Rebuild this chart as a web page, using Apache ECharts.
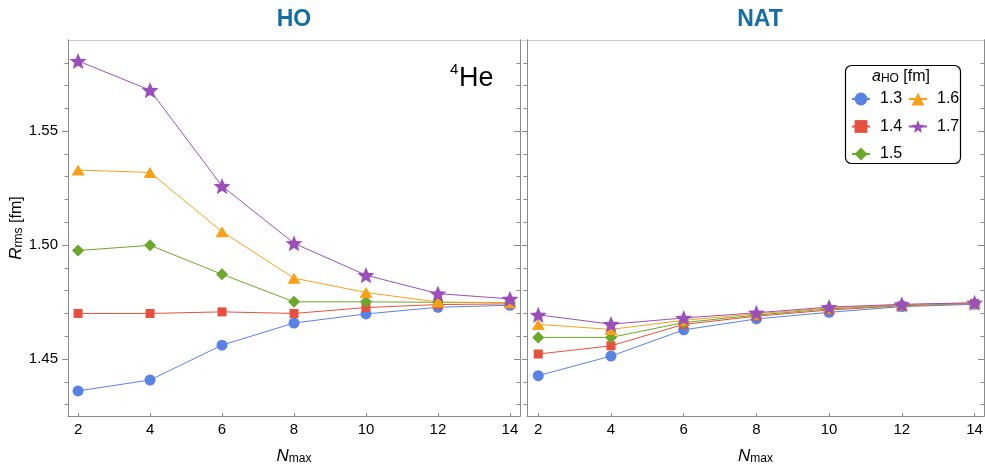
<!DOCTYPE html>
<html><head><meta charset="utf-8">
<script src="https://cdn.jsdelivr.net/npm/echarts@6/dist/echarts.min.js"></script>
<style>html,body{margin:0;padding:0;background:#fff}#c{width:985px;height:465px}</style>
</head><body><div id="c"></div>
<script>
// ---- data ----
const nmax = [2, 4, 6, 8, 10, 12, 14];
const aHO = ['1.3', '1.4', '1.5', '1.6', '1.7'];
const ho13 = [1.4360, 1.4408, 1.4561, 1.4658, 1.4698, 1.4727, 1.4736];
const ho14 = [1.4700, 1.4700, 1.4707, 1.4700, 1.4726, 1.4739, 1.4742];
const ho15 = [1.4976, 1.4999, 1.4872, 1.4751, 1.4751, 1.4749, 1.4747];
const ho16 = [1.5329, 1.5319, 1.5059, 1.4855, 1.4792, 1.4750, 1.4747];
const ho17 = [1.5808, 1.5680, 1.5259, 1.5008, 1.4868, 1.4787, 1.4764];
const nat13 = [1.4427, 1.4513, 1.4628, 1.4676, 1.4705, 1.4730, 1.4740];
const nat14 = [1.4522, 1.4558, 1.4652, 1.4688, 1.4715, 1.4734, 1.4744];
const nat15 = [1.4595, 1.4595, 1.4660, 1.4693, 1.4720, 1.4736, 1.4745];
const nat16 = [1.4652, 1.4630, 1.4670, 1.4698, 1.4724, 1.4738, 1.4746];
const nat17 = [1.4694, 1.4653, 1.4680, 1.4703, 1.4728, 1.4740, 1.4747];
const yMajor = [1.45, 1.50, 1.55];
const yMinor = [1.43, 1.44, 1.46, 1.47, 1.48, 1.49, 1.51, 1.52, 1.53, 1.54, 1.56, 1.57, 1.58];

// ---- style ----
const F = '"Liberation Sans", Arial, sans-serif';
const colors = ['#5882e4', '#e6503c', '#6aa72a', '#f7a11a', '#9b4fbb'];
const STAR = 'path://M50,0 L62.93,32.2 L97.55,34.55 L70.92,56.8 L79.39,90.45 L50,72 L20.61,90.45 L29.08,56.8 L2.45,34.55 L37.07,32.2 Z';
const symbols = ['circle', 'rect', 'diamond', 'triangle', STAR];
const sizes = [11, 9, 12, [13, 11], 17];
const AX = '#8a8a8a';

const rich = {
  i: {fontStyle: 'italic', fontSize: 17, fontFamily: F, color: '#000', verticalAlign: 'bottom', lineHeight: 17},
  s: {fontSize: 12, fontFamily: F, color: '#000', verticalAlign: 'bottom', lineHeight: 15},
  n: {fontSize: 16, fontFamily: F, color: '#000', verticalAlign: 'bottom', lineHeight: 17}
};

function xAx(g, min, max) {
  return {
    gridIndex: g, type: 'value', min: min, max: max, position: 'bottom',
    axisLine: {show: true, onZero: false, lineStyle: {color: AX, width: 1}},
    axisTick: {show: true, inside: true, length: 3, customValues: nmax, lineStyle: {color: AX}},
    axisLabel: {show: true, customValues: nmax, margin: 6, color: '#000', fontSize: 15, fontFamily: F},
    splitLine: {show: false},
    name: '{i|N}{s|max}', nameLocation: 'middle', nameGap: 32,
    nameTextStyle: {rich: rich}
  };
}
function yAx(g, pos, vals, len, inside, labels, name) {
  const a = {
    gridIndex: g, type: 'value', min: 1.425, max: 1.59, position: pos,
    axisLine: {show: true, onZero: false, lineStyle: {color: AX, width: 1}},
    axisTick: {show: true, inside: inside, length: len, customValues: vals, lineStyle: {color: AX}},
    axisLabel: labels ? {show: true, customValues: vals, formatter: v => v.toFixed(2), margin: 10, color: '#000', fontSize: 15, fontFamily: F} : {show: false},
    splitLine: {show: false}
  };
  if (name) {
    a.name = '{i|R}{s|rms}{n| [fm]}';
    a.nameLocation = 'middle';
    a.nameGap = 34;
    a.nameTextStyle = {rich: rich};
  }
  return a;
}

const hoSets = [ho13, ho14, ho15, ho16, ho17];
const natSets = [nat13, nat14, nat15, nat16, nat17];
function mk(k, vals, xi, yi) {
  return {
    type: 'line', name: aHO[k], xAxisIndex: xi, yAxisIndex: yi,
    data: nmax.map((x, i) => [x, vals[i]]),
    symbol: symbols[k], symbolSize: sizes[k], symbolKeepAspect: true,
    lineStyle: {color: colors[k], width: 1},
    itemStyle: {color: colors[k]},
    emphasis: {disabled: true}, animation: false
  };
}
const series = [];
hoSets.forEach((v, k) => series.push(mk(k, v, 0, 0)));
natSets.forEach((v, k) => series.push(mk(k, v, 1, 4)));

function legendCol(names, left) {
  return {
    data: names, orient: 'vertical', left: left, top: 91,
    itemWidth: 18, itemHeight: 16, itemGap: 11.5, padding: 0,
    selectedMode: false,
    textStyle: {fontSize: 16, color: '#000', fontFamily: F, padding: [0, 0, 0, 5]}
  };
}

const chart = echarts.init(document.getElementById('c'), null, {renderer: 'canvas'});
chart.setOption({
  animation: false,
  grid: [
    {left: 68, top: 40, width: 452, height: 376, containLabel: false, outerBoundsMode: 'none'},
    {left: 527, top: 40, width: 457, height: 376, containLabel: false, outerBoundsMode: 'none'}
  ],
  xAxis: [xAx(0, 1.72, 14.28), xAx(1, 1.69, 14.26)],
  yAxis: [
    yAx(0, 'left', yMajor, 6, false, true, true),
    yAx(0, 'left', yMinor, 3.5, false, false, false),
    yAx(0, 'right', yMajor, 6, true, false, false),
    yAx(0, 'right', yMinor, 3.5, true, false, false),
    yAx(1, 'left', yMajor, 5, false, false, false),
    yAx(1, 'left', yMinor, 3.5, false, false, false),
    yAx(1, 'right', yMajor, 6, true, false, false),
    yAx(1, 'right', yMinor, 3.5, true, false, false)
  ],
  legend: [legendCol(aHO.slice(0, 3), 851), legendCol(aHO.slice(3), 908)],
  graphic: [
    {type: 'line', shape: {x1: 68, y1: 40.5, x2: 985, y2: 40.5}, style: {stroke: '#cccccc', lineWidth: 1}, silent: true},
    {type: 'text', x: 294, y: 19.5, style: {text: 'HO', font: 'bold 23px ' + F, fill: '#146da5', align: 'center', verticalAlign: 'middle'}},
    {type: 'text', x: 760, y: 19.5, style: {text: 'NAT', font: 'bold 23px ' + F, fill: '#146da5', align: 'center', verticalAlign: 'middle'}},
    {type: 'text', x: 450, y: 70, style: {text: '4', font: '15px ' + F, fill: '#000', align: 'left', verticalAlign: 'middle'}},
    {type: 'text', x: 459, y: 79, style: {text: 'He', font: '27px ' + F, fill: '#000', align: 'left', verticalAlign: 'middle'}},
    {type: 'rect', shape: {x: 845.5, y: 65.5, width: 115, height: 98, r: 6}, style: {fill: 'none', stroke: '#000', lineWidth: 1.2}, silent: true},
    {type: 'text', x: 901, y: 77, style: {text: '{i|a}{s|HO}{n| [fm]}', rich: {
      i: {fontStyle: 'italic', fontSize: 16, fontFamily: F, fill: '#000', verticalAlign: 'bottom', lineHeight: 16},
      s: {fontSize: 12, fontFamily: F, fill: '#000', verticalAlign: 'bottom', lineHeight: 14},
      n: {fontSize: 16, fontFamily: F, fill: '#000', verticalAlign: 'bottom', lineHeight: 16}
    }, align: 'center', verticalAlign: 'middle'}}
  ],
  series: series
});
</script>
</body></html>
